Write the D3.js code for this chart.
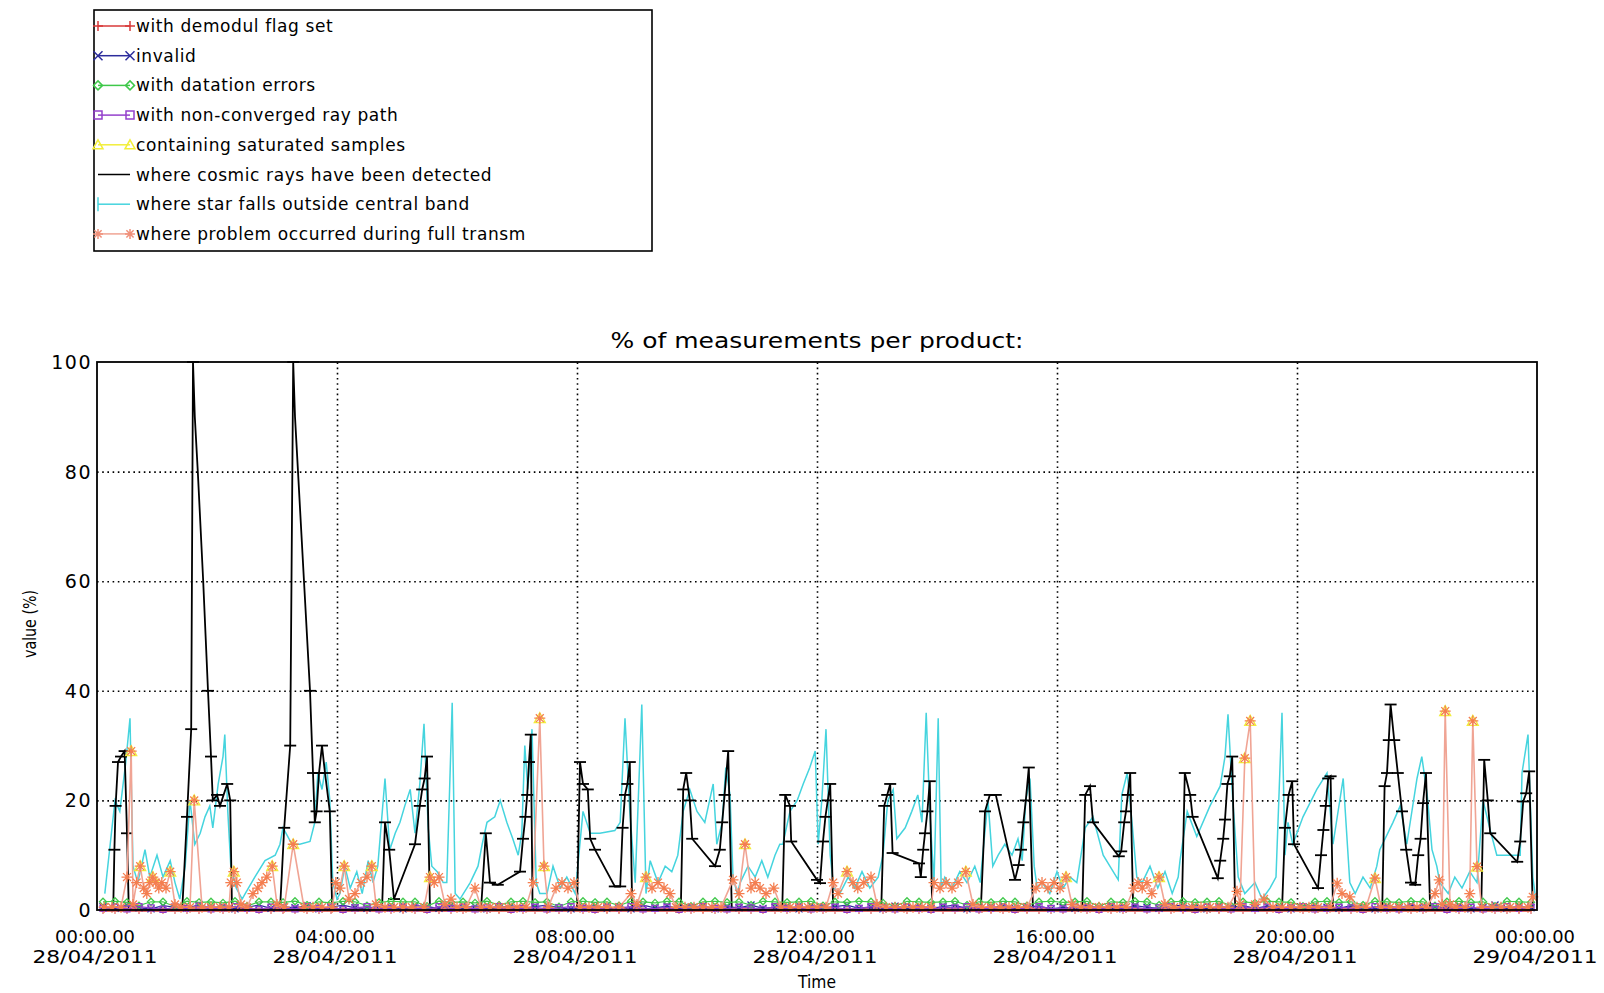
<!DOCTYPE html>
<html><head><meta charset="utf-8">
<script src="https://cdn.jsdelivr.net/npm/d3@7"></script>
<style>
body{margin:0;background:#fff}
svg{display:block}
text{font-family:"DejaVu Sans",sans-serif;fill:#000}
</style>
</head><body>
<svg id="c" width="1604" height="993"></svg>
<script>
// ---------- DATA ----------
const seriesNames = [
  "with demodul flag set",
  "invalid",
  "with datation errors",
  "with non-converged ray path",
  "containing saturated samples",
  "where cosmic rays have been detected",
  "where star falls outside central band",
  "where problem occurred during full transm"
];
const chartTitle = "% of measurements per product:";
const yTitle = "value (%)";
const xTitle = "Time";
const xTickHours = [0,4,8,12,16,20,24];
const xTickTime = ["00:00.00","04:00.00","08:00.00","12:00.00","16:00.00","20:00.00","00:00.00"];
const xTickDate = ["28/04/2011","28/04/2011","28/04/2011","28/04/2011","28/04/2011","28/04/2011","29/04/2011"];
const yTicks = [0,20,40,60,80,100];

// where cosmic rays have been detected (hours, %)
const cosmicT = [0.10,
 0.27,0.29,0.31,0.35,0.40,0.46,0.50,0.53,
 1.42,1.50,1.57,1.60,1.63,1.68,1.77,1.81,1.85,1.90,1.93,2.00,2.05,2.17,2.22,2.25,
 3.05,3.12,3.22,3.27,3.30,3.35,3.45,3.50,3.55,3.60,3.63,3.66,3.70,3.75,3.80,3.88,3.92,
 4.75,4.80,4.87,4.95,5.30,5.38,5.42,5.46,5.50,5.55,
 6.40,6.48,6.55,6.68,7.05,7.10,7.14,7.17,7.20,7.23,7.26,
 8.00,8.05,8.10,8.18,8.22,8.30,8.63,8.72,8.76,8.80,8.84,8.88,8.92,
 9.73,9.77,9.82,9.88,9.92,10.30,10.38,10.42,10.46,10.52,10.58,
 11.42,11.47,11.55,11.57,12.00,12.05,12.10,12.14,12.18,12.22,12.27,
 13.07,13.12,13.17,13.22,13.26,13.70,13.73,13.77,13.80,13.84,13.88,13.92,
 14.73,14.80,14.88,14.98,15.30,15.36,15.40,15.44,15.48,15.53,15.60,
 16.42,16.47,16.55,16.60,17.03,17.07,17.12,17.15,17.18,17.22,17.27,
 18.08,18.13,18.22,18.26,18.68,18.72,18.77,18.80,18.84,18.88,18.92,18.97,
 19.75,19.80,19.86,19.92,19.95,20.35,20.40,20.44,20.48,20.52,20.56,20.60,
 21.42,21.46,21.50,21.53,21.56,21.62,21.68,21.75,21.82,21.90,21.97,22.02,22.06,22.10,22.15,22.22,
 23.07,23.12,23.18,23.22,23.67,23.72,23.77,23.82,23.87,23.93];
const cosmicV = [0,
 0,11,19,27,28,29,14,0,
 0,17,33,100,90,80,60,50,40,28,20,21,19,23,20,0,
 0,15,30,100,90,80,60,50,40,25,16,18,25,30,25,18,0,
 0,16,11,2,12,19,22,24,28,0,
 0,14,5,4.6,7,13,17,21,27,32,0,
 0,27,23,22,13,11,4.3,4.3,15,21,23,27,0,
 0,22,25,20,13,8,11,16,21,29,0,
 0,21,19,12.5,5.5,4.9,12.5,17,20,23,0,
 0,19,21,23,10.4,8.5,6,11,14,18,23.5,0,
 0,18,21,21,5.5,8.2,11,16,20,26,0,
 0,21,22.6,16,9.8,10.7,16,18,21,25,0,
 0,25,21,17,5.8,9,13,16.5,23,24.4,28,0,
 0,15,21,23.5,12,4,10,14.6,19,24,24.4,0,
 0,22.6,25,31,37.5,31,25,18,11,5,4.6,10,13,19.5,25,0,
 0,27.4,20,14,8.8,12.5,19.8,21.3,25.3,0];

// where star falls outside central band (hours, %)
const starT = [0.13,0.22,0.30,0.38,0.48,0.55,0.60,0.68,0.80,0.88,1.00,1.10,1.22,1.30,1.38,
 1.47,1.55,1.63,1.72,1.80,1.88,1.93,2.02,2.10,2.13,2.18,2.23,2.32,2.42,
 2.47,2.63,2.80,2.97,3.05,
 3.10,3.25,3.38,3.55,3.63,3.68,3.75,3.82,3.88,3.93,4.00,
 4.05,4.13,4.22,4.33,4.42,4.52,4.60,4.68,
 4.80,4.88,4.97,5.05,5.13,5.22,5.30,5.38,5.45,5.52,5.58,5.67,5.77,5.83,5.92,5.97,
 6.05,6.22,6.35,
 6.42,6.50,6.63,6.72,6.83,6.93,7.02,7.08,7.13,7.18,7.25,7.32,7.38,
 7.50,7.60,7.72,7.83,7.97,
 8.10,8.22,8.38,8.63,8.72,8.80,8.88,8.97,9.08,9.15,
 9.22,9.35,9.47,9.58,9.68,
 9.77,9.88,10.00,10.13,10.27,10.33,10.42,10.48,10.55,10.60,10.67,
 10.72,10.85,10.97,11.08,11.18,11.30,11.38,
 11.43,11.55,11.67,11.77,11.88,11.97,12.02,12.08,12.15,12.22,12.28,
 12.38,12.52,12.63,12.75,12.88,13.02,
 13.10,13.18,13.27,13.33,13.47,13.58,13.68,13.75,13.82,13.88,13.95,14.02,14.07,
 14.13,14.25,14.38,14.50,14.63,14.72,
 14.77,14.85,14.93,15.02,15.13,15.25,15.35,15.42,15.48,15.55,15.62,15.67,
 15.75,15.88,16.00,16.10,16.22,16.33,
 16.47,16.60,16.77,17.02,17.08,17.17,17.25,17.33,
 17.42,17.55,17.68,17.80,17.92,18.02,18.05,
 18.17,18.33,18.55,18.72,18.80,18.85,18.93,19.02,
 19.13,19.30,19.42,19.55,19.65,19.75,19.80,
 19.85,19.93,20.10,20.33,20.50,20.60,20.77,20.88,
 20.97,21.10,21.22,21.33,
 21.38,21.60,21.72,21.83,22.00,22.08,22.17,22.25,22.33,
 22.38,22.52,22.63,22.75,22.88,23.00,
 23.10,23.22,23.33,23.55,23.72,23.75,23.85,23.93,23.98];
const starV = [3,12,20,18,27,35,8,5,11,6,10,6,9,5,2,
 8,20,12,14,17,19,15,23,28,32,18,8,4,2,
 3,6,9,10,12,
 15,12,12,12.5,16,25,22,27,20,5,2,
 3,8,4,7,3,9,5,8,
 24,11,14,16,19,22,14,23,34,15,8,7,5,5,37.8,3,
 2,5,8,
 12,16,17,20,16,13,10,14,30,22,33,5,3,
 3,8,4,6,3,
 18,14,14,14.5,16,35,18,5,37.5,3,
 9,5,8,7,10,
 18,22,18,16,23,12,16,26,21,6,3,
 5,8,6,9,6,10,12,
 12,18,20,23,26,29,12,20,33,10,4,
 3,6,4,7,4,6,
 10,20,22,13,15,18,21,16,36,18,5,35,4,
 6,4,7,5,8,5,
 11,20,8,10,12,10,13,9,20,24,8,4,
 5,3,7,4,6,5,
 15,17,10,5.5,21,25,16,6,
 5,8,4,7,3,6,9,
 18,13.4,19,22.6,28,35.7,20,6,
 3,5,2,4,6,36,10,
 16,12,17,22,25,12,24,5,
 3,6,4,8,
 11,16,19,12,24,28,21,11,8,
 5,3,6,4,7,5,
 20,14.6,10,10,10,25,32,6,2];

// where problem occurred during full transm (hours, %)
const transmT = [0.12,0.25,0.40,0.50,0.57,0.60,0.66,0.72,0.78,0.83,0.88,0.93,0.98,1.03,1.08,1.15,1.22,1.30,1.40,
 1.55,1.62,1.75,1.90,2.05,2.20,2.23,2.28,2.33,2.40,2.50,2.60,2.68,2.75,2.83,2.92,3.00,
 3.12,3.27,3.45,3.60,3.75,3.92,3.98,4.05,4.12,4.20,4.30,4.40,4.50,4.58,4.65,
 4.80,4.95,5.10,5.25,5.45,5.55,5.62,5.70,5.80,5.90,6.00,6.15,6.30,6.40,
 6.55,6.70,6.85,7.00,7.15,7.27,7.38,7.45,7.52,7.65,7.75,7.85,7.95,
 8.05,8.20,8.35,8.50,8.70,8.90,9.00,9.15,9.25,9.35,9.45,9.55,9.65,
 9.80,9.95,10.10,10.25,10.40,10.60,10.70,10.80,10.90,10.97,11.05,11.15,11.28,
 11.40,11.55,11.70,11.85,12.00,12.15,12.27,12.35,12.50,12.60,12.68,12.78,12.90,13.00,
 13.15,13.30,13.45,13.60,13.75,13.90,13.95,14.05,14.15,14.25,14.35,14.48,14.60,
 14.75,14.90,15.05,15.20,15.35,15.50,15.65,15.75,15.85,15.95,16.05,16.15,16.25,
 16.40,16.55,16.70,16.85,17.00,17.15,17.28,17.35,17.42,17.50,17.58,17.70,17.80,
 17.95,18.10,18.25,18.40,18.55,18.70,18.85,19.00,19.05,19.13,19.22,19.30,19.45,
 19.60,19.75,19.90,20.05,20.20,20.35,20.55,20.67,20.75,20.88,21.00,21.15,21.30,
 21.40,21.55,21.70,21.85,22.00,22.15,22.30,22.37,22.42,22.47,22.55,22.65,22.80,
 22.88,22.93,23.00,23.08,23.25,23.40,23.55,23.70,23.85,23.93];
const transmV = [0.5,0.5,0.5,6,29,1,5,8,4,3,5,6,5,4,5,4,7,1,0.5,
 0.5,20,0.5,0.5,0.5,0.5,5,7,5,1,0.5,3,4,5,6,8,1,
 0.5,12,0.5,0.5,0.5,0.5,5,4,8,2,3,5,6,8,1,
 0.5,0.5,0.5,0.5,0.5,6,5,6,1,2,0.5,0.5,4,0.5,
 0.5,0.5,0.5,0.5,0.5,5,35,8,0.5,4,5,4,5,
 0.5,0.5,0.5,0.5,0.5,3,1,6,4,5,4,3,0.5,
 0.5,0.5,0.5,0.5,0.5,5.5,3,12,4,5,4,3,4,
 0.5,0.5,0.5,0.5,0.5,0.5,5,3,7,5,4,5,6,1,
 0.5,0.5,0.5,0.5,0.5,0.5,5,4,5,4,5,7,1,
 0.5,0.5,0.5,0.5,0.5,0.5,4,5,4,5,4,6,1,
 0.5,0.5,0.5,0.5,0.5,0.5,4,5,4,5,3,6,1,
 0.5,0.5,0.5,0.5,0.5,0.5,0.5,3.4,1,27.7,34.5,1,2,
 0.5,0.5,0.5,0.5,0.5,0.5,0.5,4.9,3,2.4,0.5,0.5,5.8,
 0.5,0.5,0.5,0.5,0.5,0.5,3,5.5,1,36.3,1,0.5,0.5,
 3,34.5,7.9,0.5,0.5,0.5,0.5,0.5,0.5,2.4];

// containing saturated samples (hours, %)
const saturT = [0.57,0.72,0.93,1.22,1.62,2.28,2.92,3.27,4.12,4.58,5.55,7.38,7.45,9.15,10.80,12.50,14.48,16.15,17.70,19.13,19.22,21.30,22.47,22.93,23.00];
const saturV = [29,8,6,7,20,7,8,12,8,8,6,35,8,6,12,7,7,6,6,27.7,34.5,5.8,36.3,34.5,7.9];

// low-level series, sampled on a common product grid (minutes after 00:00)
const lowMinutes = [6,18,30,42,54,66,78,90,102,114,126,138,150,162,174,186,198,210,222,234,
 246,258,270,282,294,306,318,330,342,354,366,378,390,402,414,426,438,450,462,474,
 486,498,510,522,534,546,558,570,582,594,606,618,630,642,654,666,678,690,702,714,
 726,738,750,762,774,786,798,810,822,834,846,858,870,882,894,906,918,930,942,954,
 966,978,990,1002,1014,1026,1038,1050,1062,1074,1086,1098,1110,1122,1134,1146,1158,1170,1182,1194,
 1206,1218,1230,1242,1254,1266,1278,1290,1302,1314,1326,1338,1350,1362,1374,1386,1398,1410,1422,1434];
const demodulV = [0,0,0,0,0,0,0,0,0,0,0,0,0,0,0,0,0,0,0,0,
 0,0,0,0,0,0,0,0,0,0,0,0,0,0,0,0,0,0,0,0,
 0,0,0,0,0,0,0,0,0,0,0,0,0,0,0,0,0,0,0,0,
 0,0,0,0,0,0,0,0,0,0,0,0,0,0,0,0,0,0,0,0,
 0,0,0,0,0,0,0,0,0,0,0,0,0,0,0,0,0,0,0,0,
 0,0,0,0,0,0,0,0,0,0,0,0,0,0,0,0,0,0,0,0];
const invalidV = [0.6,0.3,0.9,0.4,0.2,0.8,0.5,0.3,1.0,0.4,0.7,0.2,0.5,0.9,0.3,0.6,0.4,0.8,0.2,0.5,
 0.9,0.4,0.3,0.7,0.5,0.2,0.8,0.6,0.3,0.9,0.4,0.7,0.2,0.5,0.8,0.3,0.6,0.9,0.4,0.2,
 0.5,0.8,0.3,0.6,0.2,0.9,0.4,0.7,0.3,0.5,0.8,0.2,0.6,0.4,0.9,0.3,0.5,0.7,0.2,0.8,
 0.4,0.6,0.9,0.3,0.5,0.2,0.7,0.4,0.8,0.3,0.6,0.9,0.2,0.5,0.4,0.8,0.3,0.6,0.7,0.2,
 0.5,0.3,0.9,0.4,0.6,0.2,0.8,0.5,0.3,0.7,0.9,0.4,0.2,0.6,0.5,0.8,0.3,0.7,0.4,0.2,
 0.6,0.9,0.5,0.3,0.8,0.4,0.2,0.7,0.5,0.9,0.3,0.6,0.4,0.8,0.2,0.5,0.9,0.3,0.7,0.4];
const datationV = [1.5,1.6,1.4,0.8,1.5,1.5,0.6,1.6,1.4,1.5,1.3,1.6,0.7,1.5,1.5,1.4,1.6,0.9,1.5,1.3,
 1.6,1.5,0.8,1.4,1.6,1.5,1.5,0.7,1.6,1.4,1.5,1.3,1.6,0.9,1.5,1.6,1.4,1.5,0.6,1.5,
 1.6,1.4,1.5,0.8,1.6,1.5,1.3,1.6,1.5,0.7,1.5,1.6,1.4,1.5,0.9,1.6,1.5,1.4,1.5,1.6,
 0.8,1.5,1.4,1.6,1.5,1.3,0.7,1.6,1.5,1.4,1.5,1.6,0.9,1.5,1.4,1.6,1.5,0.8,1.5,1.6,
 1.4,1.5,1.6,0.7,1.5,1.4,1.6,1.5,0.9,1.5,1.6,1.4,1.5,1.6,0.8,1.5,1.3,1.6,1.5,1.4,
 0.7,1.5,1.6,1.4,1.5,0.9,1.6,1.5,1.4,1.6,1.5,0.8,1.5,1.6,1.4,1.5,0.7,1.6,1.5,1.4];
const rayPathV = [0.3,0.5,0.2,0.6,0.4,0.1,0.5,0.3,0.7,0.2,0.4,0.6,0.3,0.1,0.5,0.4,0.2,0.6,0.3,0.5,
 0.1,0.4,0.6,0.2,0.3,0.5,0.4,0.1,0.6,0.3,0.5,0.2,0.4,0.6,0.1,0.3,0.5,0.2,0.4,0.6,
 0.3,0.1,0.5,0.4,0.6,0.2,0.3,0.5,0.1,0.4,0.6,0.3,0.2,0.5,0.4,0.1,0.6,0.3,0.5,0.2,
 0.4,0.5,0.1,0.3,0.6,0.4,0.2,0.5,0.3,0.1,0.5,0.4,0.6,0.2,0.3,0.5,0.1,0.4,0.6,0.3,
 0.2,0.5,0.4,0.1,0.6,0.3,0.5,0.2,0.4,0.6,0.3,0.1,0.5,0.4,0.2,0.6,0.3,0.5,0.1,0.4,
 0.6,0.2,0.3,0.5,0.4,0.1,0.6,0.3,0.2,0.5,0.4,0.6,0.1,0.3,0.5,0.2,0.4,0.6,0.3,0.5];

// ---------- DRAW ----------
const svg = d3.select("#c");
const X0 = 97, X1 = 1537, Y0 = 362, Y1 = 910;
const x = d3.scaleLinear().domain([0,24]).range([X0,X1]);
const y = d3.scaleLinear().domain([0,100]).range([Y1,Y0]);

const colors = {
  demodul:"#e07070", invalid:"#2c2c9c", datation:"#3fc84a", raypath:"#9440cc",
  satur:"#f2ee3a", cosmic:"#000000", star:"#45d4de", transmLine:"#f0a494", transmMark:"#f47e50"
};

// symbols
const sym = {
  plus: s => `M${-s},0H${s}M0,${-s}V${s}`,
  cross: s => `M${-s},${-s}L${s},${s}M${-s},${s}L${s},${-s}`,
  diamond: s => `M0,${-s}L${s},0L0,${s}L${-s},0Z`,
  square: s => `M${-s},${-s}H${s}V${s}H${-s}Z`,
  triangle: s => `M0,${-s}L${s},${s*0.8}H${-s}Z`,
  asterisk: s => `M${-s},0H${s}M0,${-s}V${s}M${-s*0.72},${-s*0.72}L${s*0.72},${s*0.72}M${-s*0.72},${s*0.72}L${s*0.72},${-s*0.72}`
};

// grid (dotted) via axes
const gGrid = svg.append("g");
gGrid.append("g").attr("transform",`translate(0,${Y1})`)
  .call(d3.axisBottom(x).tickValues(xTickHours.slice(1,-1)).tickSize(-(Y1-Y0)).tickFormat(""))
  .call(g=>{g.select(".domain").remove();
    g.selectAll("line").attr("stroke","#000").attr("stroke-width",1.6).attr("stroke-dasharray","1.6,3.6");});
gGrid.append("g").attr("transform",`translate(${X0},0)`)
  .call(d3.axisLeft(y).tickValues(yTicks.slice(1,-1)).tickSize(-(X1-X0)).tickFormat(""))
  .call(g=>{g.select(".domain").remove();
    g.selectAll("line").attr("stroke","#000").attr("stroke-width",1.6).attr("stroke-dasharray","1.6,3.6");});

const plot = svg.append("g");
const lineGen = d3.line().x(d=>x(d[0])).y(d=>y(d[1]));
const zip = (T,V) => T.map((t,i)=>[t,V[i]]);
const lowT = lowMinutes.map(m=>m/60);

// star (cyan)
plot.append("path").datum(zip(starT,starV)).attr("d",lineGen)
  .attr("fill","none").attr("stroke",colors.star).attr("stroke-width",1.5);

// cosmic (black) with horizontal ticks
const cosmic = zip(cosmicT,cosmicV);
plot.append("path").datum(cosmic).attr("d",lineGen)
  .attr("fill","none").attr("stroke",colors.cosmic).attr("stroke-width",1.8);
plot.append("g").selectAll("path").data(cosmic.filter(d=>d[1]>0 && (d[1]<=40 || d[1]===100))).join("path")
  .attr("d",d=>`M${x(d[0])-6},${y(d[1])}H${x(d[0])+6}`)
  .attr("stroke","#000").attr("stroke-width",1.8);

// low series
function drawSeries(data, color, shape, size, lineColor, lw){
  const g = plot.append("g");
  if(lineColor) g.append("path").datum(data).attr("d",lineGen).attr("fill","none")
     .attr("stroke",lineColor).attr("stroke-width",lw||1.2);
  g.selectAll(".m").data(data).join("path").attr("class","m")
    .attr("transform",d=>`translate(${x(d[0])},${y(d[1])})`)
    .attr("d",sym[shape](size)).attr("fill","none").attr("stroke",color).attr("stroke-width",1.3);
}
drawSeries(zip(lowT,demodulV), colors.demodul, "plus", 4, colors.demodul, 4);
drawSeries(zip(lowT,invalidV), colors.invalid, "cross", 3.5, colors.invalid);
drawSeries(zip(lowT,datationV), colors.datation, "diamond", 3.5, colors.datation);
drawSeries(zip(lowT,rayPathV), colors.raypath, "square", 3, colors.raypath);
drawSeries(zip(saturT,saturV), colors.satur, "triangle", 5.5, null);
// transm (salmon line + orange asterisks)
drawSeries(zip(transmT,transmV), colors.transmMark, "asterisk", 5.5, colors.transmLine, 1.6);

// frame
svg.append("rect").attr("x",X0).attr("y",Y0).attr("width",X1-X0).attr("height",Y1-Y0)
  .attr("fill","none").attr("stroke","#000").attr("stroke-width",1.8);

// y tick labels
svg.append("g").selectAll("text").data(yTicks).join("text")
  .attr("x",X0-5).attr("y",d=>y(d)+7).attr("text-anchor","end")
  .attr("font-size",19).attr("letter-spacing",1.5).text(d=>d);

// x tick labels
const xl = svg.append("g").selectAll("g").data(xTickHours).join("g")
  .attr("transform",d=>`translate(${x(d)-2},0)`);
xl.append("text").attr("y",943).attr("text-anchor","middle").attr("font-size",18)
  .attr("textLength",80).attr("lengthAdjust","spacingAndGlyphs").text((d,i)=>xTickTime[i]);
xl.append("text").attr("y",963).attr("text-anchor","middle").attr("font-size",18)
  .attr("textLength",125).attr("lengthAdjust","spacingAndGlyphs").text((d,i)=>xTickDate[i]);

// axis titles
svg.append("text").attr("x",(X0+X1)/2).attr("y",988).attr("text-anchor","middle")
  .attr("font-size",17).attr("textLength",38).attr("lengthAdjust","spacingAndGlyphs").text(xTitle);
svg.append("text").attr("transform","translate(36,624) rotate(-90)").attr("text-anchor","middle")
  .attr("font-size",17).attr("textLength",68).attr("lengthAdjust","spacingAndGlyphs").text(yTitle);
svg.append("text").attr("x",(X0+X1)/2).attr("y",348).attr("text-anchor","middle")
  .attr("font-size",22).attr("textLength",413).attr("lengthAdjust","spacingAndGlyphs").text(chartTitle);

// legend
const lg = svg.append("g");
lg.append("rect").attr("x",94).attr("y",10).attr("width",558).attr("height",241)
  .attr("fill","#fff").attr("stroke","#000").attr("stroke-width",1.6);
const legendStyle = [
  {c:"#d83a3a", s:"plus", z:5},
  {c:colors.invalid, s:"cross", z:4.5},
  {c:colors.datation, s:"diamond", z:4.5},
  {c:colors.raypath, s:"square", z:4},
  {c:colors.satur, s:"triangle", z:5},
  {c:colors.cosmic, s:null},
  {c:colors.star, s:"vbar"},
  {c:colors.transmLine, s:"asterisk", z:5, mc:"#f0907a"}
];
seriesNames.forEach((name,i)=>{
  const cy = 26 + i*29.7;
  const st = legendStyle[i];
  lg.append("line").attr("x1",98).attr("x2",130).attr("y1",cy).attr("y2",cy)
    .attr("stroke",st.c).attr("stroke-width",1.5);
  if(st.s==="vbar"){
    lg.append("line").attr("x1",98).attr("x2",98).attr("y1",cy-7).attr("y2",cy+7)
      .attr("stroke",st.c).attr("stroke-width",1.5);
  } else if(st.s){
    [98,130].forEach(px=>lg.append("path").attr("transform",`translate(${px},${cy})`)
      .attr("d",sym[st.s](st.z)).attr("fill","none").attr("stroke",st.mc||st.c).attr("stroke-width",1.5));
  }
  lg.append("text").attr("x",136).attr("y",cy+6).attr("font-size",17).attr("letter-spacing",0.6).text(name);
});
</script>
</body></html>
